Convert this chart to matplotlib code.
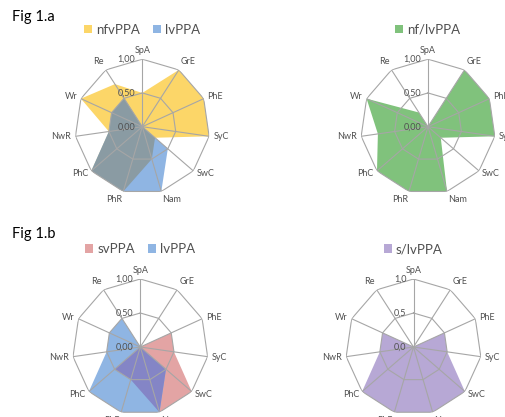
import numpy as np
import matplotlib.pyplot as plt
from matplotlib.patches import Patch

plt.rcParams['font.family'] = ['Lato', 'DejaVu Sans']

# Data
categories = ['SpA', 'GrE', 'PhE', 'SyC', 'SwC', 'Nam', 'PhR', 'PhC', 'NwR', 'Wr', 'Re']
nfvppa = [0.5, 1.0, 1.0, 1.0, 0.25, 0.5, 1.0, 1.0, 0.5, 1.0, 0.75]
lvppa = [0.0, 0.0, 0.0, 0.0, 0.5, 1.0, 1.0, 1.0, 0.5, 0.5, 0.5]
nf_lvppa = [0.0, 1.0, 1.0, 1.0, 0.25, 1.0, 1.0, 1.0, 0.75, 1.0, 0.25]
svppa = [0.0, 0.0, 0.5, 0.5, 1.0, 1.0, 0.5, 0.5, 0.0, 0.0, 0.0]
s_lvppa = [0.0, 0.0, 0.5, 0.5, 1.0, 1.0, 1.0, 1.0, 0.5, 0.5, 0.0]

ring_levels = [0.0, 0.5, 1.0]
ring_labels_2 = ['0,00', '0,50', '1,00']
ring_labels_1 = ['0,0', '0,5', '1,0']

# Colours
YELLOW = '#FCD668'
BLUE = '#8FB5E3'
GREY = '#8A9BA3'
GREEN = '#80C27C'
PINK = '#E3A4A4'
INDIGO = '#8485C6'
PURPLE = '#B7A8D5'
GRID = '#A6A6A6'
LABEL = '#505050'

W, H = 506, 417
fig = plt.figure(figsize=(W / 100, H / 100), dpi=100)

n = len(categories)
angles = np.linspace(0, 2 * np.pi, n, endpoint=False)
closed = np.append(angles, angles[0])


def close(vals):
    return np.append(vals, vals[0])


def make_axes(cx, cy, R):
    ax = fig.add_axes([(cx - R) / W, 1 - (cy + R) / H, 2 * R / W, 2 * R / H],
                      projection='polar')
    ax.set_theta_zero_location('N')
    ax.set_theta_direction(-1)
    ax.set_ylim(0, 1)
    ax.grid(False)
    ax.spines['polar'].set_visible(False)
    ax.set_xticks([])
    ax.set_yticks([])
    ax.patch.set_alpha(0)
    return ax


def decorate(ax, rlabels):
    # polygon grid
    for lvl in ring_levels[1:]:
        ax.plot(closed, [lvl] * (n + 1), color=GRID, lw=0.8, zorder=3)
    for a in angles:
        ax.plot([a, a], [0, 1], color=GRID, lw=0.8, zorder=3)
    # radial value labels
    for lvl, lab in zip(ring_levels, rlabels):
        ax.annotate(lab, xy=(0, lvl), xytext=(-5, 0), textcoords='offset points',
                    ha='right', va='center', fontsize=6.5, color=LABEL, zorder=4)
    # category labels
    for a, cat in zip(angles, categories):
        s, c = np.sin(a), np.cos(a)
        ha = 'left' if s > 0.2 else ('right' if s < -0.2 else 'center')
        va = 'bottom' if c > 0.8 else ('top' if c < -0.9 else 'center')
        ax.annotate(cat, xy=(a, 1), xytext=(3 * s, 3 * c), textcoords='offset points',
                    ha=ha, va=va, fontsize=6.5, color=LABEL, annotation_clip=False)


def add_legend(ax, colors, names):
    handles = [Patch(facecolor=c, edgecolor='none') for c in colors]
    ax.legend(handles, names, loc='center', bbox_to_anchor=(0.5, 1.22), ncol=len(names),
              frameon=False, fontsize=9.5, handlelength=0.6, handleheight=0.6,
              handletextpad=0.3, columnspacing=1.0, labelcolor=LABEL)


# Fig 1.a left: nfvPPA vs lvPPA
ax1 = make_axes(142.3, 126.7, 67.5)
p1 = ax1.fill(closed, close(nfvppa), color=YELLOW, lw=0, zorder=1)[0]
ax1.fill(closed, close(lvppa), color=BLUE, lw=0, zorder=1)
ov1 = ax1.fill(closed, close(lvppa), color=GREY, lw=0, zorder=2)[0]
ov1.set_clip_path(p1)
decorate(ax1, ring_labels_2)
add_legend(ax1, [YELLOW, BLUE], ['nfvPPA', 'lvPPA'])

# Fig 1.a right: nf/lvPPA
ax2 = make_axes(428.0, 126.7, 67.5)
ax2.fill(closed, close(nf_lvppa), color=GREEN, lw=0, zorder=1)
decorate(ax2, ring_labels_2)
add_legend(ax2, [GREEN], ['nf/lvPPA'])

# Fig 1.b left: svPPA vs lvPPA
ax3 = make_axes(140.3, 347.0, 68.0)
p3 = ax3.fill(closed, close(svppa), color=PINK, lw=0, zorder=1)[0]
ax3.fill(closed, close(lvppa), color=BLUE, lw=0, zorder=1)
ov3 = ax3.fill(closed, close(lvppa), color=INDIGO, lw=0, zorder=2)[0]
ov3.set_clip_path(p3)
decorate(ax3, ring_labels_2)
add_legend(ax3, [PINK, BLUE], ['svPPA', 'lvPPA'])

# Fig 1.b right: s/lvPPA
ax4 = make_axes(413.5, 347.0, 68.0)
ax4.fill(closed, close(s_lvppa), color=PURPLE, lw=0, zorder=1)
decorate(ax4, ring_labels_1)
add_legend(ax4, [PURPLE], ['s/lvPPA'])

fig.text(12 / W, 1 - 17 / H, 'Fig 1.a', fontsize=10.5, ha='left', va='center')
fig.text(12 / W, 1 - 234 / H, 'Fig 1.b', fontsize=10.5, ha='left', va='center')

fig.savefig('out.png', dpi=100)
